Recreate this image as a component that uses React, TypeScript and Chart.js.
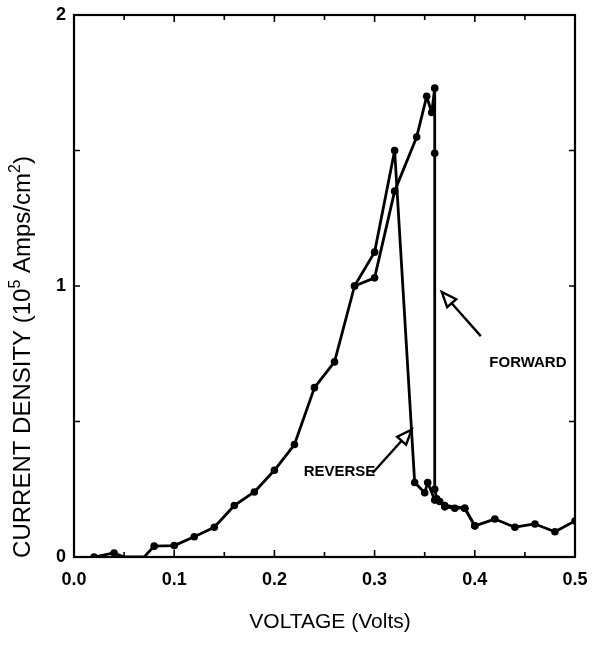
import React, { useEffect, useRef } from "react";
import { Chart, registerables } from "chart.js";

Chart.register(...registerables);

// Forward sweep (voltage increasing)
const forwardVoltage = [
  0.02, 0.04, 0.05, 0.07, 0.08, 0.10, 0.12, 0.14, 0.16, 0.18, 0.20, 0.22, 0.24, 0.26, 0.28,
  0.30, 0.32, 0.342, 0.352, 0.357, 0.36, 0.36, 0.36, 0.362, 0.365, 0.37, 0.38, 0.39, 0.40,
  0.42, 0.44, 0.46, 0.48, 0.50,
];
const forwardCurrent = [
  0.0, 0.015, 0.0, 0.0, 0.04, 0.042, 0.075, 0.11, 0.19, 0.24, 0.32, 0.415, 0.625, 0.72, 1.0,
  1.03, 1.35, 1.55, 1.70, 1.64, 1.73, 1.49, 0.25, 0.215, 0.205, 0.185, 0.18, 0.18, 0.115,
  0.14, 0.11, 0.122, 0.093, 0.133,
];

// Reverse sweep (voltage decreasing)
const reverseVoltage = [0.40, 0.39, 0.37, 0.36, 0.353, 0.35, 0.34, 0.32, 0.30, 0.28];
const reverseCurrent = [0.115, 0.18, 0.19, 0.21, 0.275, 0.237, 0.275, 1.5, 1.125, 1.0];

const xTickValues = [0.0, 0.1, 0.2, 0.3, 0.4, 0.5];
const yTickValues = [0, 1, 2];

const annotationLabels = ["FORWARD", "REVERSE"];
const annotationTips = [[0.367, 0.978], [0.337, 0.47]];
const annotationTails = [[0.406, 0.815], [0.298, 0.31]];
const annotationTextAt = [[0.453, 0.716], [0.265, 0.314]];

const FONT = "'Liberation Sans', Arial, sans-serif";

const framePlugin = {
  id: "frame",
  afterDraw(chart: any) {
    const { ctx, chartArea: a, scales } = chart;
    const xs = scales.x;
    const ys = scales.y;
    ctx.save();
    ctx.strokeStyle = "#000";
    ctx.lineWidth = 2.2;
    ctx.strokeRect(a.left, a.top, a.right - a.left, a.bottom - a.top);
    // inward ticks
    ctx.lineWidth = 1.6;
    for (let i = 1; i < 10; i++) {
      const v = i * 0.05;
      const px = xs.getPixelForValue(v);
      const len = i % 2 === 0 ? 7 : 5;
      ctx.beginPath();
      ctx.moveTo(px, a.bottom);
      ctx.lineTo(px, a.bottom - len);
      ctx.moveTo(px, a.top);
      ctx.lineTo(px, a.top + len);
      ctx.stroke();
    }
    for (let i = 1; i < 4; i++) {
      const py = ys.getPixelForValue(i * 0.5);
      const len = 6;
      ctx.beginPath();
      ctx.moveTo(a.left, py);
      ctx.lineTo(a.left + len, py);
      ctx.moveTo(a.right, py);
      ctx.lineTo(a.right - len, py);
      ctx.stroke();
    }

    // annotations
    for (let k = 0; k < annotationLabels.length; k++) {
      const tx = xs.getPixelForValue(annotationTips[k][0]);
      const ty = ys.getPixelForValue(annotationTips[k][1]);
      const sx = xs.getPixelForValue(annotationTails[k][0]);
      const sy = ys.getPixelForValue(annotationTails[k][1]);
      const ang = Math.atan2(ty - sy, tx - sx);
      const headLen = 15;
      const headW = 6;
      const bx = tx - headLen * Math.cos(ang);
      const by = ty - headLen * Math.sin(ang);
      ctx.lineWidth = 2.4;
      ctx.beginPath();
      ctx.moveTo(sx, sy);
      ctx.lineTo(bx, by);
      ctx.stroke();
      ctx.beginPath();
      ctx.moveTo(tx, ty);
      ctx.lineTo(bx + headW * Math.sin(ang), by - headW * Math.cos(ang));
      ctx.lineTo(bx - headW * Math.sin(ang), by + headW * Math.cos(ang));
      ctx.closePath();
      ctx.fillStyle = "#fff";
      ctx.fill();
      ctx.stroke();
      ctx.fillStyle = "#000";
      ctx.font = `bold 15px ${FONT}`;
      ctx.textAlign = "center";
      ctx.textBaseline = "middle";
      ctx.fillText(
        annotationLabels[k],
        xs.getPixelForValue(annotationTextAt[k][0]),
        ys.getPixelForValue(annotationTextAt[k][1])
      );
    }

    // axis titles
    ctx.fillStyle = "#000";
    ctx.font = `21px ${FONT}`;
    ctx.textAlign = "center";
    ctx.textBaseline = "middle";
    ctx.fillText("VOLTAGE (Volts)", 330, 622);

    // y title with superscripts
    const parts: [string, boolean][] = [
      ["CURRENT DENSITY (10", false],
      ["5", true],
      [" Amps/cm", false],
      ["2", true],
      [")", false],
    ];
    const big = `24px ${FONT}`;
    const small = `16px ${FONT}`;
    let total = 0;
    for (const [t, sup] of parts) {
      ctx.font = sup ? small : big;
      total += ctx.measureText(t).width;
    }
    ctx.translate(23, 357);
    ctx.rotate(-Math.PI / 2);
    ctx.textAlign = "left";
    ctx.textBaseline = "middle";
    let x = -total / 2;
    for (const [t, sup] of parts) {
      ctx.font = sup ? small : big;
      ctx.fillText(t, x, sup ? -7 : 0);
      x += ctx.measureText(t).width;
    }
    ctx.restore();
  },
};

export default function App() {
  const ref = useRef<HTMLCanvasElement | null>(null);
  useEffect(() => {
    if (!ref.current) return;
    const fwd = forwardVoltage.map((v, i) => ({ x: v, y: forwardCurrent[i] }));
    const rev = reverseVoltage.map((v, i) => ({ x: v, y: reverseCurrent[i] }));
    const radius = (c: any) => {
      const p = c.raw;
      return p && p.y === 0 && p.x > 0.045 ? 0 : 3.8;
    };
    const chart = new Chart(ref.current, {
      type: "line",
      data: {
        datasets: [
          {
            label: "Forward",
            data: fwd,
            borderColor: "#000",
            backgroundColor: "#000",
            borderWidth: 2.8,
            borderJoinStyle: "round",
            pointRadius: radius,
            pointBackgroundColor: "#000",
            pointBorderWidth: 0,
            tension: 0,
          },
          {
            label: "Reverse",
            data: rev,
            borderColor: "#000",
            backgroundColor: "#000",
            borderWidth: 2.8,
            borderJoinStyle: "round",
            pointRadius: 3.8,
            pointBackgroundColor: "#000",
            pointBorderWidth: 0,
            tension: 0,
          },
        ],
      },
      options: {
        animation: false,
        responsive: false,
        events: [],
        layout: { padding: { top: 15, right: 17, left: 0, bottom: 0 } },
        plugins: { legend: { display: false }, tooltip: { enabled: false } },
        scales: {
          x: {
            type: "linear",
            min: 0,
            max: 0.5,
            afterBuildTicks: (s: any) => {
              s.ticks = xTickValues.map((v) => ({ value: v }));
            },
            afterFit: (s: any) => {
              s.height = 95;
              s.paddingLeft = 0;
              s.paddingRight = 0;
            },
            grid: { display: false, drawTicks: false },
            border: { display: false },
            ticks: {
              padding: 12,
              color: "#000",
              font: { family: FONT, size: 18, weight: "bold" },
              callback: (v: any) => Number(v).toFixed(1),
            },
          },
          y: {
            type: "linear",
            min: 0,
            max: 2,
            afterBuildTicks: (s: any) => {
              s.ticks = yTickValues.map((v) => ({ value: v }));
            },
            afterFit: (s: any) => {
              s.width = 74;
              s.paddingTop = 0;
              s.paddingBottom = 0;
            },
            grid: { display: false, drawTicks: false },
            border: { display: false },
            ticks: {
              padding: 8,
              color: "#000",
              font: { family: FONT, size: 18, weight: "bold" },
              callback: (v: any) => String(v),
            },
          },
        },
      },
      plugins: [framePlugin],
    });
    return () => chart.destroy();
  }, []);
  return (
    <div style={{ position: "fixed", left: 0, top: 0, width: 592, height: 652, background: "#fff" }}>
      <canvas ref={ref} width={592} height={652} />
    </div>
  );
}
